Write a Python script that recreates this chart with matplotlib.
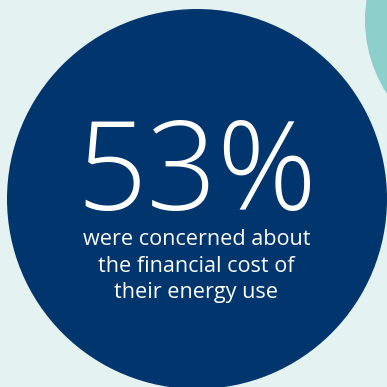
import matplotlib.pyplot as plt
from matplotlib.patches import Circle

# stat shown in the big circle
value_label = "53%"
caption_lines = ["were concerned about", "the financial cost of", "their energy use"]

bg_color = "#e4f2f2"
navy = "#00356e"
teal = "#8dcfcb"

fig = plt.figure(figsize=(3.87, 3.87), dpi=100)
fig.patch.set_facecolor(bg_color)
ax = fig.add_axes([0, 0, 1, 1])
ax.set_xlim(0, 387)
ax.set_ylim(387, 0)
ax.set_aspect("equal")
ax.axis("off")

# teal circle peeking in at the top right
ax.add_patch(Circle((500, 20), 135, color=teal, lw=0))
# main navy circle
ax.add_patch(Circle((197, 199), 190, color=navy, lw=0))

ax.text(197, 210, value_label, color="white", fontsize=89, family="Open Sans",
        weight="light", ha="center", va="baseline")

for i, line in enumerate(caption_lines):
    ax.text(196.5, 245 + i * 26.5, line, color="white", fontsize=15.6,
            family="Open Sans", ha="center", va="baseline")

fig.savefig("out.png", dpi=100, facecolor=bg_color)
